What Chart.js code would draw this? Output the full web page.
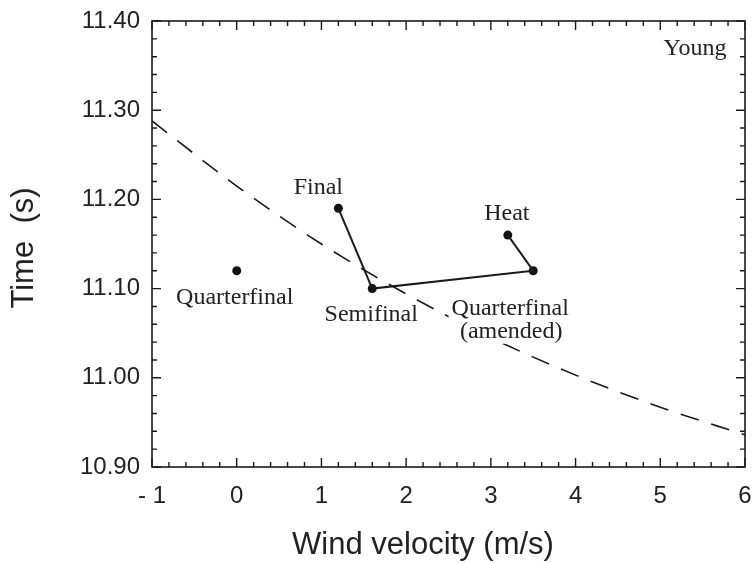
<!DOCTYPE html>
<html><head><meta charset="utf-8">
<script src="https://cdn.jsdelivr.net/npm/chart.js@4/dist/chart.umd.min.js"></script>
<style>html,body{margin:0;padding:0;background:#fff;}canvas{display:block;}</style>
</head><body>
<canvas id="c" width="754" height="563"></canvas>
<script>
// ---- data ----
const raceNames = ['Heat', 'Quarterfinal', 'Quarterfinal (amended)', 'Semifinal', 'Final'];
const raceWind = [3.2, 0.0, 3.5, 1.6, 1.2];
const raceTime = [11.16, 11.12, 11.12, 11.10, 11.19];
const linkedRaces = ['Final', 'Semifinal', 'Quarterfinal (amended)', 'Heat'];
const curveWind = [-1, 0, 1, 2, 3, 4, 5, 6];
const curveTime = [11.288, 11.215, 11.150, 11.094, 11.045, 11.003, 10.967, 10.936];
const xTickValues = [-1, 0, 1, 2, 3, 4, 5, 6];
const yTickValues = [10.90, 11.00, 11.10, 11.20, 11.30, 11.40];
const athleteName = 'Young';
const xTitle = 'Wind velocity (m/s)';
const yTitle = 'Time  (s)';

// ---- derived ----
const racePoints = raceNames.map((n, i) => ({x: raceWind[i], y: raceTime[i]}));
const linkPoints = linkedRaces.map(n => racePoints[raceNames.indexOf(n)]);
const curvePoints = curveWind.map((w, i) => ({x: w, y: curveTime[i]}));

// label placement (pixel offsets from the point, baseline)
const labelStyle = {
  'Heat': {lines: [[-1, -15]]},
  'Quarterfinal': {lines: [[-2, 33]]},
  'Quarterfinal (amended)': {lines: [[-23, 44], [-22, 67]], mask: true},
  'Semifinal': {lines: [[-1, 32]]},
  'Final': {lines: [[-20, -14]]}
};

const ink = '#1a1a1a';
const serif = '"Liberation Serif", "Times New Roman", serif';
const sans = '"Liberation Sans", Arial, sans-serif';

const decor = {
  id: 'decor',
  afterDraw(chart) {
    const ctx = chart.ctx;
    const xs = chart.scales.x, ys = chart.scales.y;
    const a = chart.chartArea;
    ctx.save();
    ctx.strokeStyle = ink;
    ctx.lineWidth = 1.6;
    ctx.strokeRect(a.left, a.top, a.right - a.left, a.bottom - a.top);
    // inward ticks
    ctx.lineWidth = 1.4;
    ctx.beginPath();
    for (let i = 0; i <= 35; i++) {
      const v = xs.min + i * 0.2;
      const px = xs.getPixelForValue(v);
      const len = (i % 5 === 0) ? 9 : 5;
      ctx.moveTo(px, a.bottom); ctx.lineTo(px, a.bottom - len);
      ctx.moveTo(px, a.top); ctx.lineTo(px, a.top + len);
    }
    for (let i = 0; i <= 25; i++) {
      const v = ys.min + i * 0.02;
      const py = ys.getPixelForValue(v);
      const len = (i % 5 === 0) ? 9 : 5;
      ctx.moveTo(a.left, py); ctx.lineTo(a.left + len, py);
      ctx.moveTo(a.right, py); ctx.lineTo(a.right - len, py);
    }
    ctx.stroke();
    // axis titles
    ctx.fillStyle = '#222';
    ctx.font = '31px ' + sans;
    ctx.textAlign = 'center';
    ctx.textBaseline = 'middle';
    ctx.fillText(xTitle, 423, 545);
    ctx.save();
    ctx.translate(24, 248);
    ctx.rotate(-Math.PI / 2);
    ctx.fillText(yTitle, 0, 0);
    ctx.restore();
    // annotations
    ctx.font = '24px ' + serif;
    ctx.textBaseline = 'alphabetic';
    raceNames.forEach((name, i) => {
      const px = xs.getPixelForValue(raceWind[i]);
      const py = ys.getPixelForValue(raceTime[i]);
      const lines = name.includes(' (') ? [name.slice(0, name.indexOf(' (')), name.slice(name.indexOf(' (') + 1)] : [name];
      const st = labelStyle[name];
      if (st.mask) {
        let l = Infinity, r = -Infinity, t = Infinity, b = -Infinity;
        lines.forEach((txt, k) => {
          const off = st.lines[k];
          const w = ctx.measureText(txt).width;
          l = Math.min(l, px + off[0] - w / 2 - 3);
          r = Math.max(r, px + off[0] + w / 2 + 3);
          t = Math.min(t, py + off[1] - 19);
          b = Math.max(b, py + off[1] + 6);
        });
        ctx.fillStyle = '#fff';
        ctx.fillRect(l, t, r - l, b - t);
        ctx.fillStyle = '#222';
      }
      lines.forEach((txt, k) => {
        const off = st.lines[k];
        ctx.fillText(txt, px + off[0], py + off[1]);
      });
    });
    ctx.fillText(athleteName, a.right - 50, a.top + 34);
    ctx.restore();
  }
};

new Chart(document.getElementById('c'), {
  type: 'scatter',
  data: {
    datasets: [
      {
        label: 'curve',
        data: curvePoints,
        showLine: true,
        borderColor: ink,
        borderWidth: 1.6,
        borderDash: [19, 13],
        pointRadius: 0,
        cubicInterpolationMode: 'monotone',
        fill: false
      },
      {
        label: 'links',
        data: linkPoints,
        showLine: true,
        borderColor: ink,
        borderWidth: 2,
        pointRadius: 0,
        fill: false
      },
      {
        label: 'races',
        data: racePoints,
        showLine: false,
        pointRadius: 4.5,
        pointBackgroundColor: '#111',
        pointBorderColor: '#111',
        pointBorderWidth: 0
      }
    ]
  },
  options: {
    responsive: false,
    devicePixelRatio: 1,
    animation: false,
    layout: {padding: {top: 21, right: 9, left: 0, bottom: 0}},
    plugins: {legend: {display: false}, tooltip: {enabled: false}},
    scales: {
      x: {
        type: 'linear',
        min: -1, max: 6,
        afterBuildTicks: s => { s.ticks = xTickValues.map(v => ({value: v})); },
        afterFit: s => { s.height = 96; s.paddingLeft = 0; s.paddingRight = 0; },
        grid: {display: false, drawTicks: false},
        border: {display: false},
        ticks: {
          padding: 15,
          color: '#222',
          font: {family: sans, size: 24},
          maxRotation: 0,
          callback: v => v < 0 ? '- ' + Math.abs(v) : String(v)
        }
      },
      y: {
        type: 'linear',
        min: 10.9, max: 11.4,
        afterBuildTicks: s => { s.ticks = yTickValues.map(v => ({value: v})); },
        afterFit: s => { s.width = 152; s.paddingTop = 0; s.paddingBottom = 0; },
        grid: {display: false, drawTicks: false},
        border: {display: false},
        ticks: {
          padding: 12,
          color: '#222',
          font: {family: sans, size: 24},
          callback: v => Number(v).toFixed(2)
        }
      }
    }
  },
  plugins: [decor]
});
</script>
</body></html>
